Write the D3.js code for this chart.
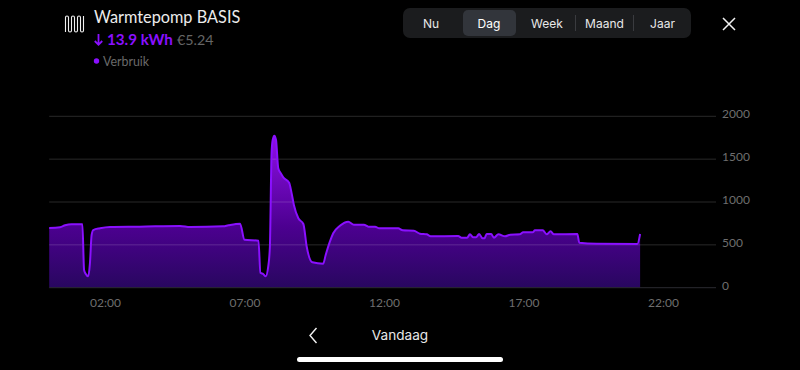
<!DOCTYPE html>
<html>
<head>
<meta charset="utf-8">
<script src="https://cdn.jsdelivr.net/npm/d3@7"></script>
<style>
  html, body { margin: 0; padding: 0; background: #000; overflow: hidden; }
  svg { display: block; }
  text { font-family: Lato, sans-serif; }
  .seg { font-family: Inter, Roboto, sans-serif; font-size: 12px; text-anchor: middle; }
  .axis text { font-family: Lato, sans-serif; font-size: 12px; fill: #6e6e6e; }
  .axis path, .axis line { display: none; }
</style>
</head>
<body>
<div id="app"></div>
<script>
// hours since midnight
const hours = [0, 0.39, 0.57, 0.8, 1.19, 1.25, 1.31, 1.4, 1.46, 1.52, 1.58, 1.82, 2.18, 3.25, 4.69, 5.05, 6.24, 6.42, 6.84, 7.0, 7.5, 7.57, 7.67, 7.76, 7.85, 7.91, 7.97, 8.01, 8.07, 8.13, 8.21, 8.3, 8.39, 8.6, 8.69, 8.77, 8.93, 9.11, 9.23, 9.43, 9.82, 9.91, 10.06, 10.18, 10.42, 10.72, 10.92, 11.28, 11.44, 11.68, 11.83, 12.51, 12.67, 13.07, 13.29, 13.53, 13.67, 14.66, 14.78, 14.98, 15.08, 15.2, 15.3, 15.41, 15.53, 15.6, 15.68, 15.84, 15.94, 16.1, 16.34, 16.52, 16.87, 16.99, 17.33, 17.41, 17.69, 17.83, 17.97, 18.09, 18.93, 19.0, 19.62, 21.08, 21.18];
// watts
const watts = [697, 705, 728, 740, 740, 206, 160, 133, 284, 615, 673, 693, 708, 712, 720, 708, 716, 728, 747, 560, 548, 175, 160, 133, 245, 478, 1568, 1723, 1774, 1723, 1393, 1335, 1288, 1225, 1101, 965, 810, 743, 478, 296, 280, 382, 537, 635, 723, 770, 735, 735, 712, 712, 693, 693, 670, 665, 630, 623, 600, 603, 583, 583, 623, 588, 588, 627, 576, 576, 627, 627, 583, 623, 600, 618, 623, 646, 646, 670, 670, 623, 658, 623, 627, 525, 513, 510, 627];

const yTicks = [0, 500, 1000, 1500, 2000];
const xTickHours = [2, 7, 12, 17, 22];
const xTickLabels = ["02:00", "07:00", "12:00", "17:00", "22:00"];
const periods = ["Nu", "Dag", "Week", "Maand", "Jaar"];
const activePeriod = "Dag";

const points = hours.map((h, i) => ({ h: h, w: watts[i] }));

const width = 800;
const height = 370;

const svg = d3.select("#app").append("svg")
  .attr("width", width)
  .attr("height", height);

const x = d3.scaleLinear().domain([0, 24]).range([49.2, 718.8]);
const y = d3.scaleLinear().domain([0, 2000]).range([287.7, 116.3]);

// gradient for the area
const defs = svg.append("defs");
const grad = defs.append("linearGradient")
  .attr("id", "areaFill")
  .attr("gradientUnits", "userSpaceOnUse")
  .attr("x1", 0).attr("x2", 0)
  .attr("y1", y(1774)).attr("y2", y(0));
grad.append("stop").attr("offset", "0%").attr("stop-color", "#8f10e6");
grad.append("stop").attr("offset", "60%").attr("stop-color", "#4c0090");
grad.append("stop").attr("offset", "100%").attr("stop-color", "#28075f");

const area = d3.area()
  .x(d => x(d.h))
  .y0(y(0))
  .y1(d => y(d.w))
  .curve(d3.curveMonotoneX);

const line = d3.line()
  .x(d => x(d.h))
  .y(d => y(d.w))
  .curve(d3.curveMonotoneX);

svg.append("path")
  .datum(points)
  .attr("d", area)
  .attr("fill", "url(#areaFill)");

// grid sits above the fill, it shows through faintly
svg.append("g")
  .selectAll("line")
  .data(yTicks)
  .enter()
  .append("line")
  .attr("x1", x(0))
  .attr("x2", 716)
  .attr("y1", d => y(d))
  .attr("y2", d => y(d))
  .attr("stroke", d => d === 0 ? "#2b2b30" : "#ffffff")
  .attr("stroke-opacity", d => d === 0 ? 1 : 0.16)
  .attr("stroke-width", 1);

svg.append("path")
  .datum(points)
  .attr("d", line)
  .attr("fill", "none")
  .attr("stroke", "#8a10ff")
  .attr("stroke-width", 2)
  .attr("stroke-linejoin", "round");

// axes
svg.append("g")
  .attr("class", "axis")
  .attr("transform", "translate(722,-2.3)")
  .call(d3.axisRight(y).tickValues(yTicks).tickSize(0).tickPadding(0).tickFormat(d3.format("d")));

svg.append("g")
  .attr("class", "axis")
  .attr("transform", "translate(0,298)")
  .call(d3.axisBottom(x)
    .tickValues(xTickHours)
    .tickSize(0)
    .tickPadding(0)
    .tickFormat((d, i) => xTickLabels[i]));

// header
svg.append("path")
  .attr("d", "M65.5 32V17.5a1.5 1.5 0 0 1 3 0V30.5a1.5 1.5 0 0 0 3 0V17.5a1.5 1.5 0 0 1 3 0V30.5a1.5 1.5 0 0 0 3 0V17.5a1.5 1.5 0 0 1 3 0V30.5a1.5 1.5 0 0 0 3 0V16")
  .attr("fill", "none")
  .attr("stroke", "#f0f0f0")
  .attr("stroke-width", 1.1);

svg.append("text")
  .attr("x", 94).attr("y", 23)
  .attr("font-size", 16.3)
  .attr("fill", "#ececec")
  .text("Warmtepomp BASIS");

svg.append("path")
  .attr("d", "M98.5 34V44.5M94.8 41L98.5 44.8L102.2 41")
  .attr("fill", "none")
  .attr("stroke", "#8a10ff")
  .attr("stroke-width", 1.8);

svg.append("text")
  .attr("x", 107).attr("y", 45)
  .attr("font-size", 15.2)
  .attr("font-weight", 700)
  .attr("fill", "#8a10ff")
  .text("13.9 kWh");

svg.append("text")
  .attr("x", 177).attr("y", 45)
  .attr("font-size", 14.3)
  .attr("fill", "#666")
  .text("€5.24");

svg.append("circle")
  .attr("cx", 96.5).attr("cy", 61).attr("r", 2.7)
  .attr("fill", "#8a10ff");

svg.append("text")
  .attr("x", 103).attr("y", 66)
  .attr("font-size", 12.4)
  .attr("fill", "#6a6a6a")
  .text("Verbruik");

// period switch
svg.append("rect")
  .attr("x", 403).attr("y", 8).attr("width", 288).attr("height", 30).attr("rx", 7)
  .attr("fill", "#1b1c1e");

const segCenters = [431, 489, 547, 604.5, 662.5];

svg.append("rect")
  .attr("x", 463).attr("y", 10).attr("width", 53).attr("height", 26).attr("rx", 5)
  .attr("fill", "#32353b");

svg.selectAll(".seg")
  .data(periods)
  .enter()
  .append("text")
  .attr("class", "seg")
  .attr("x", (d, i) => segCenters[i])
  .attr("y", 27.5)
  .attr("fill", d => d === activePeriod ? "#fff" : "#e8e8e8")
  .text(d => d);

svg.selectAll(".divider")
  .data([575.5, 633.5])
  .enter()
  .append("line")
  .attr("class", "divider")
  .attr("x1", d => d).attr("x2", d => d)
  .attr("y1", 15).attr("y2", 31)
  .attr("stroke", "#3a3b3f");

// close icon
svg.append("path")
  .attr("d", "M723 18L735 30M735 18L723 30")
  .attr("stroke", "#f2f2f2")
  .attr("stroke-width", 1.5)
  .attr("fill", "none");

// footer
svg.append("path")
  .attr("d", "M316.5 328L310 335.5L316.5 343")
  .attr("stroke", "#f2f2f2")
  .attr("stroke-width", 1.4)
  .attr("fill", "none");

svg.append("text")
  .attr("x", 400).attr("y", 340)
  .attr("text-anchor", "middle")
  .style("font-family", "Inter, Roboto, sans-serif")
  .attr("font-size", 13.6)
  .attr("fill", "#e8e8e8")
  .text("Vandaag");

svg.append("rect")
  .attr("x", 297).attr("y", 357).attr("width", 206).attr("height", 5).attr("rx", 2.5)
  .attr("fill", "#fff");
</script>
</body>
</html>
